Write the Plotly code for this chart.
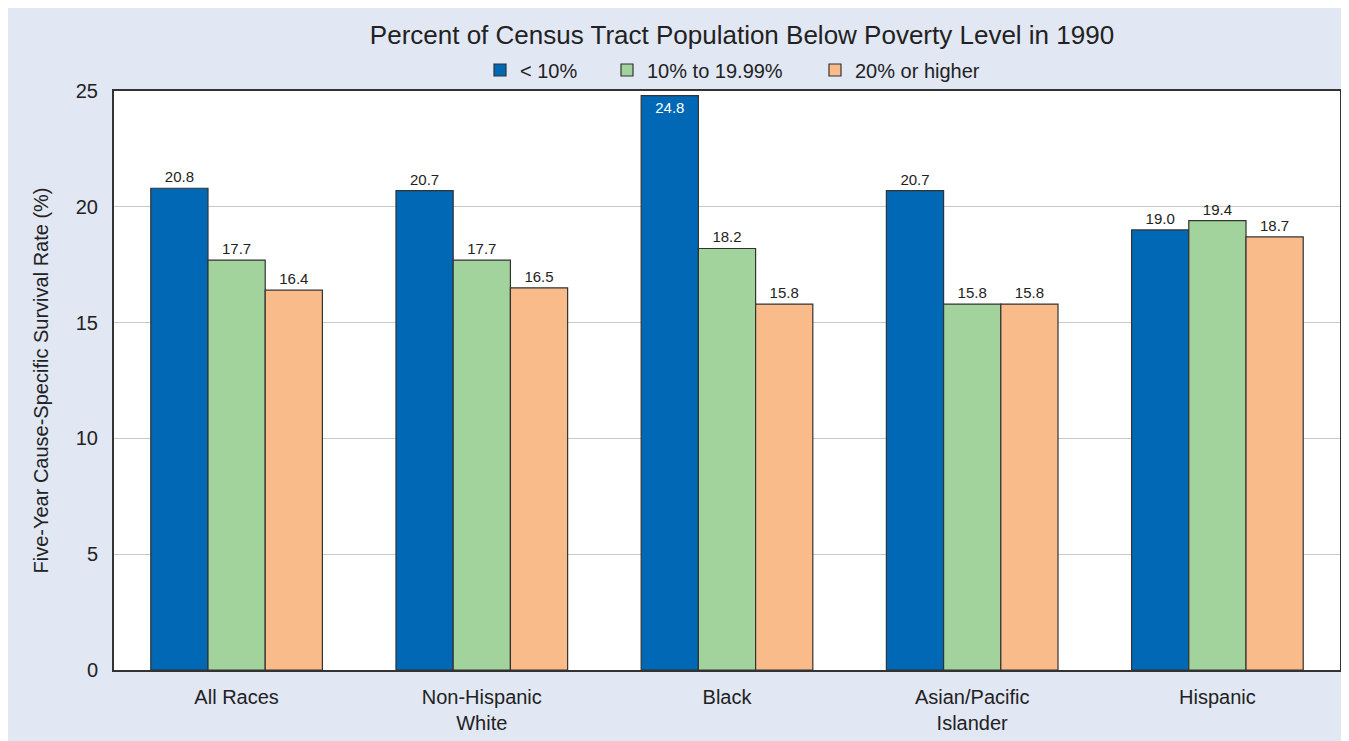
import plotly.graph_objects as go

categories = ["All Races", "Non-Hispanic<br>White", "Black", "Asian/Pacific<br>Islander", "Hispanic"]
series_names = ["< 10%", "10% to 19.99%", "20% or higher"]
below10 = [20.8, 20.7, 24.8, 20.7, 19.0]
mid10_20 = [17.7, 17.7, 18.2, 15.8, 19.4]
above20 = [16.4, 16.5, 15.8, 15.8, 18.7]
y_ticks = [0, 5, 10, 15, 20, 25]

colors = ["#0068b5", "#a3d39c", "#f9bb8a"]
FONT = "Liberation Sans Narrow, Arial Narrow, Liberation Sans, Arial, sans-serif"
W, H = 1341, 733
L, R, T, B = 106, 9, 83, 71
legend_ids = ["legend", "legend2", "legend3"]
legend_x = [472, 599, 807]

fig = go.Figure()
for name, vals, col, lid in zip(series_names, [below10, mid10_20, above20], colors, legend_ids):
    positions = ["inside" if v > 24 else "outside" for v in vals]
    fig.add_trace(go.Bar(
        x=categories, y=vals, name=name, legend=lid, showlegend=True,
        marker=dict(color=col, line=dict(color="#333333", width=1.2)),
        text=[f"{v:.1f}" for v in vals],
        textposition=positions,
        insidetextanchor="end",
        textangle=0,
        outsidetextfont=dict(family=FONT, size=15, color="#222222"),
        insidetextfont=dict(family=FONT, size=15, color="#ffffff"),
        cliponaxis=False,
    ))

legend_common = dict(orientation="h", xref="container", yref="container",
                     xanchor="left", y=1 - 62 / H, yanchor="middle",
                     font=dict(family=FONT, size=20, color="#222222"),
                     bgcolor="rgba(0,0,0,0)", itemwidth=30)

fig.update_layout(
    width=W, height=H,
    showlegend=True,
    paper_bgcolor="#e1e7f3",
    plot_bgcolor="white",
    barmode="group",
    bargap=0.3,
    bargroupgap=0,
    margin=dict(l=L, r=R, t=T, b=B, autoexpand=False),
    font=dict(family=FONT, color="#222222"),
    title=dict(text="Percent of Census Tract Population Below Poverty Level in 1990",
               x=734 / W, xanchor="center", y=1 - 27 / H, yanchor="middle",
               font=dict(family=FONT, size=26, color="#222222")),
    legend=dict(x=legend_x[0] / W, **legend_common),
    legend2=dict(x=legend_x[1] / W, **legend_common),
    legend3=dict(x=legend_x[2] / W, **legend_common),
    xaxis=dict(range=[-0.5, 4.5], showline=True, linecolor="#333333", linewidth=2,
               mirror=True, ticks="", automargin=False, ticklabelstandoff=8,
               tickfont=dict(family=FONT, size=20, color="#222222")),
    yaxis=dict(range=[0, 25], tickvals=y_ticks, showline=True, linecolor="#333333",
               linewidth=2, mirror=True, showgrid=True, gridcolor="#c8c8c8", gridwidth=1,
               zeroline=False, ticks="", ticklen=0, automargin=False, ticklabelstandoff=10,
               tickfont=dict(family=FONT, size=20, color="#222222"),
               title=dict(text="Five-Year Cause-Specific Survival Rate (%)",
                          font=dict(family=FONT, size=20, color="#222222"), standoff=22)),
)

fig.write_html("out.html")
